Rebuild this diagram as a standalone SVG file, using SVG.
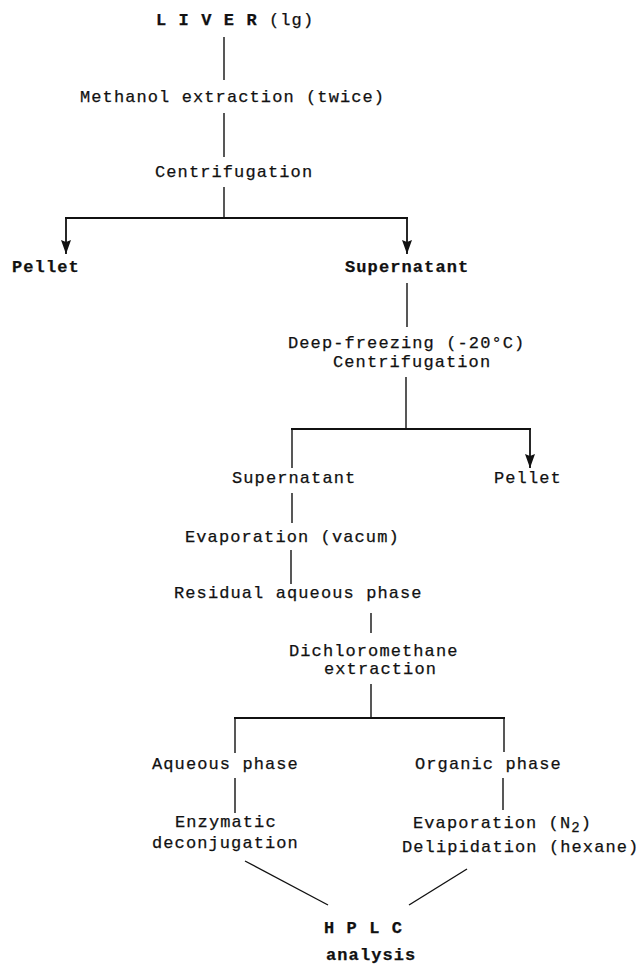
<svg xmlns="http://www.w3.org/2000/svg" width="640" height="965" viewBox="0 0 640 965">
<style>
text{font-family:"Liberation Mono","Courier New",monospace;font-size:17px;letter-spacing:1.1px;fill:#111;stroke:#111;stroke-width:0.25}
.b{font-weight:bold}
.c line{stroke:#111;stroke-width:1.4;fill:none}
.c .h{stroke-width:2}
.c .a{stroke-width:1.8}
</style>
<defs>
<marker id="ah" viewBox="0 0 14 10" refX="14" refY="5" markerWidth="14" markerHeight="10" orient="auto" markerUnits="userSpaceOnUse">
<path d="M0,0 L14,5 L0,10 L2,5 z" fill="#111"/>
</marker>
</defs>
<rect width="640" height="965" fill="#fff"/>
<g id="connectors" class="c">
<line x1="224" y1="37" x2="224" y2="80"/>
<line x1="224" y1="113" x2="224" y2="157"/>
<line x1="224" y1="187" x2="224" y2="218"/>
<line class="h" x1="65" y1="218" x2="408" y2="218"/>
<line class="a" x1="66" y1="218" x2="66" y2="254" marker-end="url(#ah)"/>
<line class="a" x1="407" y1="218" x2="407" y2="254" marker-end="url(#ah)"/>
<line x1="407" y1="283" x2="407" y2="327"/>
<line x1="406" y1="377" x2="406" y2="429"/>
<line class="h" x1="291" y1="429" x2="531" y2="429"/>
<line x1="292" y1="429" x2="292" y2="468"/>
<line class="a" x1="530" y1="429" x2="530" y2="468" marker-end="url(#ah)"/>
<line x1="292" y1="493" x2="292" y2="523"/>
<line x1="291" y1="550" x2="291" y2="584"/>
<line x1="371" y1="613" x2="371" y2="633"/>
<line x1="371" y1="684" x2="371" y2="718"/>
<line class="h" x1="234" y1="718" x2="505" y2="718"/>
<line x1="235" y1="718" x2="235" y2="753"/>
<line x1="504" y1="718" x2="504" y2="752"/>
<line x1="235" y1="778" x2="235" y2="813"/>
<line x1="503" y1="778" x2="503" y2="810"/>
<line x1="245" y1="861" x2="328" y2="905"/>
<line x1="467" y1="869" x2="409" y2="905"/>
</g>
<g id="liver"><text x="156" y="25"><tspan class="b">L I V E R</tspan> (lg)</text></g>
<g id="methanol"><text x="80" y="102">Methanol extraction (twice)</text></g>
<g id="centrif1"><text x="155" y="177">Centrifugation</text></g>
<g id="pellet1"><text class="b" x="12" y="272">Pellet</text></g>
<g id="super1"><text class="b" x="345" y="272">Supernatant</text></g>
<g id="deepfreeze"><text x="288" y="348">Deep-freezing (-20°C)</text><text x="333" y="367">Centrifugation</text></g>
<g id="super2"><text x="232" y="483">Supernatant</text></g>
<g id="pellet2"><text x="494" y="483">Pellet</text></g>
<g id="evapvac"><text x="185" y="542">Evaporation (vacum)</text></g>
<g id="residual"><text x="174" y="598">Residual aqueous phase</text></g>
<g id="dcm"><text x="289" y="656">Dichloromethane</text><text x="324" y="674">extraction</text></g>
<g id="aqueous"><text x="152" y="769">Aqueous phase</text></g>
<g id="organic"><text x="415" y="769">Organic phase</text></g>
<g id="enzymatic"><text x="175" y="827">Enzymatic</text><text x="152" y="848">deconjugation</text></g>
<g id="evapn2"><text x="413" y="828">Evaporation (N<tspan dy="4" font-size="14">2</tspan><tspan dy="-4">)</tspan></text><text x="402" y="852">Delipidation (hexane)</text></g>
<g id="hplc"><text class="b" x="324" y="933">H P L C</text><text class="b" x="326" y="960">analysis</text></g>
</svg>
